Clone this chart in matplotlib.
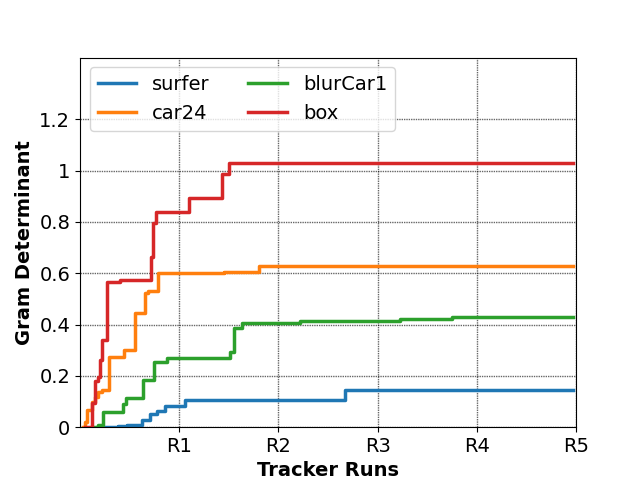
import matplotlib
matplotlib.use("Agg")
import matplotlib.pyplot as plt

surfer_x = [0.2, 0.387, 0.471, 0.623, 0.707, 0.774, 0.859, 1.06, 1.85, 2.2, 2.67, 4.97]
surfer_y = [0, 0.004, 0.008, 0.03, 0.05, 0.062, 0.084, 0.105, 0.106, 0.107, 0.145, 0.145]

car24_x = [0.034, 0.05, 0.074, 0.118, 0.152, 0.185, 0.219, 0.296, 0.444, 0.556, 0.657, 0.69, 0.791, 1.455, 1.80, 4.97]
car24_y = [0, 0.02, 0.066, 0.099, 0.118, 0.138, 0.145, 0.275, 0.30, 0.444, 0.522, 0.531, 0.60, 0.604, 0.629, 0.629]

blurcar1_x = [0.15, 0.185, 0.236, 0.431, 0.465, 0.633, 0.747, 0.875, 1.515, 1.549, 1.633, 2.22, 3.23, 3.75, 4.97]
blurcar1_y = [0, 0.008, 0.06, 0.092, 0.112, 0.184, 0.255, 0.268, 0.294, 0.385, 0.407, 0.415, 0.42, 0.428, 0.428]

box_x = [0.05, 0.118, 0.152, 0.185, 0.202, 0.219, 0.27, 0.404, 0.714, 0.734, 0.768, 1.094, 1.431, 1.505, 4.97]
box_y = [0, 0.094, 0.18, 0.196, 0.26, 0.34, 0.566, 0.574, 0.664, 0.797, 0.84, 0.894, 0.988, 1.03, 1.03]

x_ticks = [1, 2, 3, 4, 5]
x_labels = ["R1", "R2", "R3", "R4", "R5"]
y_ticks = [0, 0.2, 0.4, 0.6, 0.8, 1.0, 1.2]
y_labels = ["0", "0.2", "0.4", "0.6", "0.8", "1", "1.2"]

fig, ax = plt.subplots(figsize=(6.4, 4.8), dpi=100)
series = [("surfer", surfer_x, surfer_y, "#1f77b4"),
          ("car24", car24_x, car24_y, "#ff7f0e"),
          ("blurCar1", blurcar1_x, blurcar1_y, "#2ca02c"),
          ("box", box_x, box_y, "#d62728")]
for name, xs, ys, c in series:
    ax.step(xs, ys, where="post", color=c, lw=2.5, label=name)

ax.set_xlim(0, 5)
ax.set_ylim(0, 1.44)
ax.set_xticks(x_ticks)
ax.set_xticklabels(x_labels, fontsize=14)
ax.set_yticks(y_ticks)
ax.set_yticklabels(y_labels, fontsize=14)
ax.grid(True, color="black", linestyle=(0, (1, 0.7)), linewidth=1.0, alpha=0.6)
ax.set_xlabel("Tracker Runs", fontsize=14, fontweight="bold")
ax.set_ylabel("Gram Determinant", fontsize=14, fontweight="bold")
ax.legend(loc="upper left", ncol=2, fontsize=14)
fig.savefig("out.png", dpi=100)
